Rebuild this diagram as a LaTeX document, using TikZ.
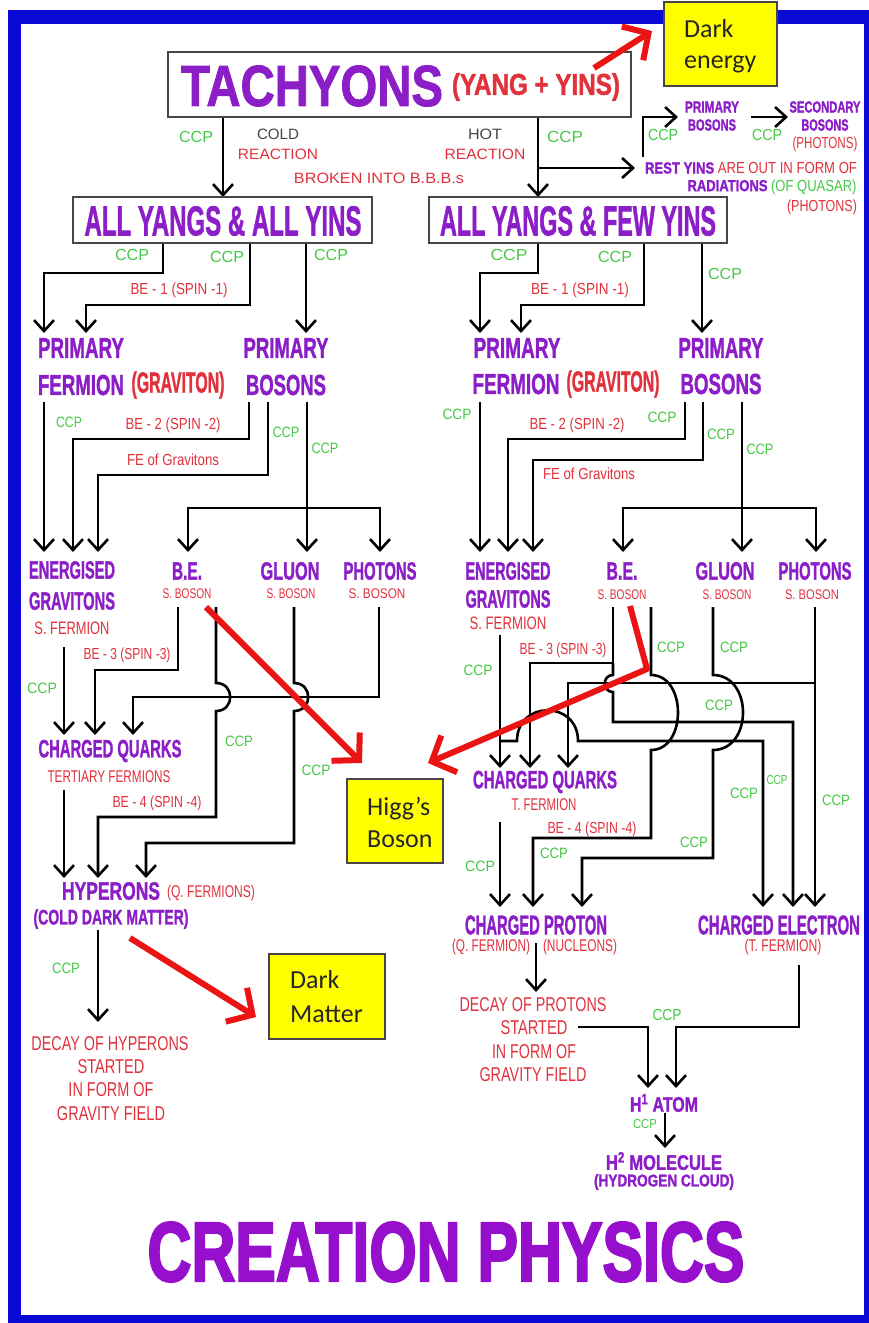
\documentclass[tikz,border=0pt]{standalone}
\usepackage{fontspec}
\usepackage{graphicx}
\setmainfont{Liberation Sans}
\newfontfamily\heavy{Liberation Sans}[BoldFeatures={FakeBold=1.6}]
\newfontfamily\heavier{Liberation Sans}[BoldFeatures={FakeBold=3}]
\newfontfamily\carl{Carlito}
\usetikzlibrary{arrows.meta}
\definecolor{purp}{RGB}{140,30,200}
\definecolor{purT}{RGB}{150,15,205}
\definecolor{redT}{RGB}{225,50,60}
\definecolor{grn}{RGB}{70,200,70}
\definecolor{gry}{RGB}{70,70,70}
\definecolor{redA}{RGB}{235,20,20}
\definecolor{bluF}{RGB}{10,10,215}
\definecolor{ylw}{RGB}{255,255,0}
\newcounter{labc}
\newcommand\lab[5]{\stepcounter{labc}\node[#1] (L\arabic{labc}) at (#2,#3) {\resizebox{#4pt}{\height}{#5}};}
\tikzset{
  pu/.style={inner sep=0pt, text=purp, font=\heavy\bfseries\fontsize{#1}{#1}\selectfont},
  rd/.style={inner sep=0pt, text=redT, font=\fontsize{#1}{#1}\selectfont},
  rb/.style={inner sep=0pt, text=redT, font=\heavy\bfseries\fontsize{#1}{#1}\selectfont},
  gr/.style={inner sep=0pt, text=grn, font=\fontsize{#1}{#1}\selectfont},
  gy/.style={inner sep=0pt, text=gry, font=\fontsize{#1}{#1}\selectfont},
  ln/.style={line width=2.6pt, draw=black},
  ar/.style={ln, -{Straight Barb[length=11pt,width=20pt]}},
  rar/.style={draw=redA, line width=6pt, line join=round, -{Straight Barb[length=19pt,width=40pt]}},
  wbox/.style={draw=gry, line width=2.5pt, fill=white, inner sep=0pt},
  ybox/.style={draw=gry, line width=1.5pt, fill=ylw, inner sep=0pt},
  ctext/.style={inner sep=0pt, anchor=base west, font=\carl\fontsize{26}{26}\selectfont, text=black!85},
}
\begin{document}
\begin{tikzpicture}[x=1pt,y=-1pt]
\useasboundingbox (0,0) rectangle (869,1323);
\fill[white] (0,0) rectangle (869,1323);
% frame
\fill[bluF] (8,10) rectangle (869,1323);
\fill[white] (21,24) rectangle (864,1315);

% ---------- connectors ----------
% top
\draw[ar] (223,117) -- (223,197);
\draw[ar] (538,117) -- (538,197);
\draw[ar] (538,168) -- (635,168);
\draw[ar] (643,157) -- (643,117) -- (678,117);
\draw[ar] (751,117) -- (788,117);
% left level 2-3
\draw[ar] (163,243) -- (163,273) -- (44,273) -- (44,333);
\draw[ar] (250,243) -- (250,305) -- (86,305) -- (86,333);
\draw[ar] (306,243) -- (306,333);
% left level 3-4
\draw[ar] (44,402) -- (44,552);
\draw[ar] (249,402) -- (249,439) -- (73,439) -- (73,552);
\draw[ar] (268,402) -- (268,475) -- (98,475) -- (98,552);
\draw[ar] (307,402) -- (307,552);
\draw[ar] (307,508) -- (188,508) -- (188,552);
\draw[ar] (307,508) -- (380,508) -- (380,552);
% left level 4-5
\draw[ar] (64,647) -- (64,735);
\draw[ar] (178,607) -- (178,670) -- (95,670) -- (95,735);
\draw[ar] (379,607) -- (379,697) -- (133,697) -- (133,735);
\draw[ar] (216,607) -- (216,683) .. controls (235,683) and (235,711) .. (216,711) -- (216,817) -- (98,817) -- (98,878);
\draw[ar] (294,607) -- (294,683) .. controls (313,683) and (313,711) .. (294,711) -- (294,843) -- (146,843) -- (146,878);
\draw[ar] (64,790) -- (64,878);
\draw[ar] (98,930) -- (98,1022);
% right level 2-3
\draw[ar] (538,243) -- (538,273) -- (480,273) -- (480,333);
\draw[ar] (644,243) -- (644,305) -- (521,305) -- (521,333);
\draw[ar] (702,243) -- (702,333);
% right level 3-4
\draw[ar] (480,402) -- (480,552);
\draw[ar] (685,402) -- (685,439) -- (508,439) -- (508,552);
\draw[ar] (703,402) -- (703,460) -- (533,460) -- (533,552);
\draw[ar] (742,402) -- (742,552);
\draw[ar] (742,508) -- (623,508) -- (623,552);
\draw[ar] (742,508) -- (816,508) -- (816,552);
% right level 4-5
\draw[ar] (500,635) -- (500,768);
\draw[ar] (500,741) -- (517,741) .. controls (517,700) and (578,700) .. (578,741) -- (763,741) -- (763,907);
\draw[ln] (613,607) -- (613,663);
\draw[ar] (613,663) -- (530,663) -- (530,768);
\draw[ar] (613,663) -- (613,675) .. controls (602,675) and (602,692) .. (613,692) -- (613,722) -- (793,722) -- (793,907);
\draw[ar] (815,607) -- (815,907);
\draw[ar] (815,683) -- (568,683) -- (568,768);
\draw[ar] (651,607) -- (651,675) .. controls (687,675) and (687,750) .. (651,750) -- (651,838) -- (533,838) -- (533,907);
\draw[ar] (713,607) -- (713,675) .. controls (753,675) and (753,750) .. (713,750) -- (713,858) -- (582,858) -- (582,907);
\draw[ar] (500,822) -- (500,907);
\draw[ar] (536,943) -- (536,992);
\draw[ar] (578,1027) -- (648,1027) -- (648,1088);
\draw[ar] (799,965) -- (799,1027) -- (676,1027) -- (676,1088);
\draw[ar] (665,1113) -- (665,1148);

% ---------- boxes ----------
\node[wbox, minimum width=463pt, minimum height=65pt] (tach) at (399.5,84.5) {};
\node[wbox, minimum width=299pt, minimum height=46pt] (allyin) at (222.5,220) {};
\node[wbox, minimum width=298pt, minimum height=46pt] (fewyin) at (578,220) {};
\node[ybox, minimum width=113pt, minimum height=84pt] (de) at (720.5,44) {};
\node[ybox, minimum width=96pt, minimum height=84pt] (hb) at (395,821) {};
\node[ybox, minimum width=116pt, minimum height=85pt] (dm) at (327,996.5) {};
\node[ctext] (de1) at (684,37) {Dark};
\node[ctext] (de2) at (684,68) {energy};
\node[ctext] (hb1) at (367,815) {Higg’s};
\node[ctext] (hb2) at (367,847) {Boson};
\node[ctext] (dm1) at (290,988) {Dark};
\node[ctext] (dm2) at (290,1022) {Matter};

% ---------- red arrows ----------
\draw[rar] (594,68) -- (652,31);
\draw[rar] (206,607) -- (362,763);
\draw[rar] (130,938) -- (256,1017);
\draw[rar] (630,606) -- (647,669) -- (428,763);

% ---------- labels top ----------
\lab{pu=58}{312}{86}{262}{TACHYONS}
\lab{rb=30}{536}{87}{168}{(YANG + YINS)}
\lab{gr=16}{196}{137}{34}{CCP}
\lab{gy=15}{278}{134}{42}{COLD}
\lab{rd=15}{278}{154}{80}{REACTION}
\lab{gy=15}{485}{134}{34}{HOT}
\lab{rd=15}{485}{154}{81}{REACTION}
\lab{gr=16}{565}{137}{36}{CCP}
\lab{rd=15}{379}{178}{170}{BROKEN INTO B.B.B.s}
\lab{gr=16}{663}{135}{30}{CCP}
\lab{gr=16}{767}{135}{30}{CCP}
\lab{pu=16}{712}{107}{54}{PRIMARY}
\lab{pu=16}{712}{125}{48}{BOSONS}
\lab{pu=16}{825}{107}{71}{SECONDARY}
\lab{pu=16}{825}{125}{47}{BOSONS}
\lab{rd=16}{825}{144}{65}{(PHOTONS)}
\lab{rd=16}{751}{168}{212}{{\heavy\bfseries\color{purp}REST YINS} ARE OUT IN FORM OF}
\lab{rd=16}{772}{187}{169}{{\heavy\bfseries\color{purp}RADIATIONS} {\color{grn}(OF QUASAR)}}
\lab{rd=16}{822}{207}{70}{(PHOTONS)}
\lab{pu=42}{223}{221}{277}{ALL YANGS \& ALL YINS}
\lab{pu=42}{578}{221}{276}{ALL YANGS \& FEW YINS}

% ---------- left ----------
\lab{gr=16}{132}{255}{34}{CCP}
\lab{gr=16}{227}{257}{34}{CCP}
\lab{gr=16}{331}{255}{34}{CCP}
\lab{rd=16}{179}{290}{97}{BE - 1 (SPIN -1)}
\lab{pu=29}{81}{348}{86}{PRIMARY}
\lab{pu=29}{81}{385}{86}{FERMION}
\lab{rb=29}{178}{385}{93}{(GRAVITON)}
\lab{pu=29}{286}{348}{85}{PRIMARY}
\lab{pu=29}{286}{385}{80}{BOSONS}
\lab{gr=15}{69}{422}{26}{CCP}
\lab{rd=16}{173}{425}{95}{BE - 2 (SPIN -2)}
\lab{rd=16}{173}{460}{92}{FE of Gravitons}
\lab{gr=15}{286}{432}{27}{CCP}
\lab{gr=15}{325}{448}{27}{CCP}
\lab{pu=25}{72}{570}{86}{ENERGISED}
\lab{pu=25}{72}{601}{86}{GRAVITONS}
\lab{rd=18}{72}{628}{75}{S. FERMION}
\lab{pu=25}{187}{571}{30}{B.E.}
\lab{rd=14}{187}{594}{49}{S. BOSON}
\lab{pu=25}{290}{571}{59}{GLUON}
\lab{rd=14}{291}{594}{49}{S. BOSON}
\lab{pu=25}{380}{571}{73}{PHOTONS}
\lab{rd=14}{377}{594}{57}{S. BOSON}
\lab{gr=15}{42}{688}{30}{CCP}
\lab{rd=16}{127}{655}{87}{BE - 3 (SPIN -3)}
\lab{gr=15}{239}{741}{28}{CCP}
\lab{gr=15}{316}{770}{29}{CCP}
\lab{pu=25}{110}{751}{143}{CHARGED QUARKS}
\lab{rd=17}{109}{777}{123}{TERTIARY FERMIONS}
\lab{rd=16}{157}{803}{89}{BE - 4 (SPIN -4)}
\lab{pu=25}{111}{891}{98}{HYPERONS}
\lab{rd=17}{211}{893}{88}{(Q. FERMIONS)}
\lab{pu=21}{111}{919}{155}{(COLD DARK MATTER)}
\lab{gr=15}{66}{968}{28}{CCP}
\lab{rd=20}{110}{1044}{157}{DECAY OF HYPERONS}
\lab{rd=20}{111}{1067}{67}{STARTED}
\lab{rd=20}{111}{1090}{85}{IN FORM OF}
\lab{rd=20}{111}{1114}{108}{GRAVITY FIELD}

% ---------- right ----------
\lab{gr=16}{509}{255}{37}{CCP}
\lab{gr=16}{615}{257}{34}{CCP}
\lab{gr=16}{725}{274}{34}{CCP}
\lab{rd=16}{580}{290}{98}{BE - 1 (SPIN -1)}
\lab{pu=29}{517}{348}{87}{PRIMARY}
\lab{pu=29}{516}{384}{87}{FERMION}
\lab{rb=29}{613}{384}{93}{(GRAVITON)}
\lab{pu=29}{721}{348}{85}{PRIMARY}
\lab{pu=29}{721}{384}{81}{BOSONS}
\lab{gr=15}{457}{414}{29}{CCP}
\lab{rd=16}{577}{425}{95}{BE - 2 (SPIN -2)}
\lab{gr=15}{662}{417}{29}{CCP}
\lab{rd=16}{589}{474}{92}{FE of Gravitons}
\lab{gr=15}{721}{434}{28}{CCP}
\lab{gr=15}{760}{449}{27}{CCP}
\lab{pu=25}{508}{571}{85}{ENERGISED}
\lab{pu=25}{508}{599}{85}{GRAVITONS}
\lab{rd=18}{508}{623}{77}{S. FERMION}
\lab{pu=25}{622}{571}{31}{B.E.}
\lab{rd=14}{622}{595}{49}{S. BOSON}
\lab{pu=25}{725}{571}{59}{GLUON}
\lab{rd=14}{727}{595}{49}{S. BOSON}
\lab{pu=25}{815}{571}{73}{PHOTONS}
\lab{rd=14}{812}{595}{54}{S. BOSON}
\lab{gr=15}{478}{670}{29}{CCP}
\lab{rd=16}{563}{650}{87}{BE - 3 (SPIN -3)}
\lab{gr=15}{671}{647}{28}{CCP}
\lab{gr=15}{734}{647}{28}{CCP}
\lab{gr=15}{719}{705}{28}{CCP}
\lab{pu=25}{545}{782}{144}{CHARGED QUARKS}
\lab{rd=17}{544}{805}{65}{T. FERMION}
\lab{gr=15}{480}{866}{30}{CCP}
\lab{rd=16}{592}{829}{89}{BE - 4 (SPIN -4)}
\lab{gr=15}{554}{853}{28}{CCP}
\lab{gr=15}{694}{842}{28}{CCP}
\lab{gr=15}{744}{793}{28}{CCP}
\lab{gr=13}{777}{780}{21}{CCP}
\lab{gr=15}{836}{800}{28}{CCP}
\lab{pu=27}{536}{925}{142}{CHARGED PROTON}
\lab{rd=17}{491}{947}{78}{(Q. FERMION)}
\lab{rd=17}{580}{947}{74}{(NUCLEONS)}
\lab{pu=27}{779}{925}{162}{CHARGED ELECTRON}
\lab{rd=17}{783}{947}{77}{(T. FERMION)}
\lab{rd=20}{533}{1005}{147}{DECAY OF PROTONS}
\lab{rd=20}{534}{1028}{67}{STARTED}
\lab{rd=20}{534}{1052}{84}{IN FORM OF}
\lab{rd=20}{533}{1075}{107}{GRAVITY FIELD}
\lab{gr=16}{667}{1015}{29}{CCP}
\lab{pu=21}{664}{1103}{68}{H\textsuperscript{1} ATOM}
\lab{gr=13}{645}{1124}{24}{CCP}
\lab{pu=21}{664}{1161}{116}{H\textsuperscript{2} MOLECULE}
\lab{pu=17}{664}{1182}{140}{(HYDROGEN CLOUD)}

% ---------- title ----------
\node[inner sep=0pt, text=purT, font=\heavier\bfseries\fontsize{84}{84}\selectfont] (title) at (446,1252) {\resizebox{597pt}{\height}{CREATION PHYSICS}};
\end{tikzpicture}
\end{document}
